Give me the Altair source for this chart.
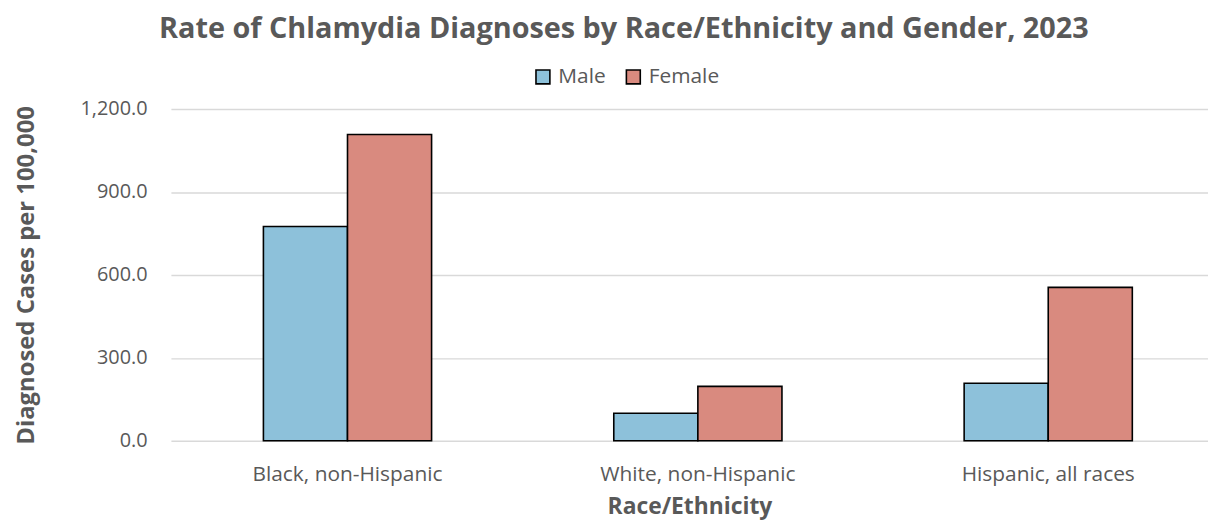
import altair as alt
import pandas as pd

categories = ["Black, non-Hispanic", "White, non-Hispanic", "Hispanic, all races"]
genders = ["Male", "Female"]
male_rates = [775.0, 100.0, 208.0]
female_rates = [1108.0, 197.0, 555.0]
y_ticks = [0, 300, 600, 900, 1200]
colors = ["#8DC1DA", "#D98A7F"]

rows = []
for c, m, f in zip(categories, male_rates, female_rates):
    rows.append({"race": c, "gender": "Male", "rate": m})
    rows.append({"race": c, "gender": "Female", "rate": f})
df = pd.DataFrame(rows)

FONT = "Open Sans"
GRAY = "#595959"

chart = alt.Chart(df).mark_bar(stroke="black", strokeWidth=1.6).encode(
    x=alt.X("race:N", sort=categories,
            scale=alt.Scale(paddingInner=0.52, paddingOuter=0.24, align=0.55),
            axis=alt.Axis(title="Race/Ethnicity", labelAngle=0, ticks=False, domain=False,
                          labelFontSize=21, labelColor=GRAY, labelPadding=23, labelFont=FONT,
                          labelLimit=500,
                          titleFont=FONT, titleFontSize=23, titleFontWeight="bold",
                          titleColor=GRAY, titlePadding=11)),
    xOffset=alt.XOffset("gender:N", sort=genders, scale=alt.Scale(paddingInner=0, paddingOuter=0)),
    y=alt.Y("rate:Q", scale=alt.Scale(domain=[0, 1200], nice=False),
            axis=alt.Axis(title="Diagnosed Cases per 100,000", values=y_ticks, format=",.1f",
                          ticks=False, domain=False, grid=True, gridColor="#D9D9D9", gridWidth=1.5,
                          labelFontSize=20, labelColor=GRAY, labelPadding=24, labelFont=FONT,
                          titleFont=FONT, titleFontSize=24, titleFontWeight="bold",
                          titleColor=GRAY, titlePadding=42)),
    color=alt.Color("gender:N", sort=genders, scale=alt.Scale(domain=genders, range=colors),
                    legend=alt.Legend(title=None, orient="none", direction="horizontal",
                                      legendX=364, legendY=-43, symbolType="square",
                                      symbolSize=196, symbolStrokeColor="black",
                                      symbolStrokeWidth=1.6, labelFontSize=21, labelFont=FONT,
                                      labelColor=GRAY, columnPadding=17, labelOffset=5)),
).properties(
    width=1044, height=334,
    title=alt.TitleParams("Rate of Chlamydia Diagnoses by Race/Ethnicity and Gender, 2023",
                          font=FONT, fontSize=29, fontWeight="bold", color=GRAY,
                          anchor="middle", offset=23, dx=-66),
    autosize=alt.AutoSizeParams(type="none"),
    padding={"left": 164, "top": 100, "right": 0, "bottom": 80},
).configure_view(stroke=None)

chart.save("out.html", embed_options={"renderer": "svg", "actions": False})
